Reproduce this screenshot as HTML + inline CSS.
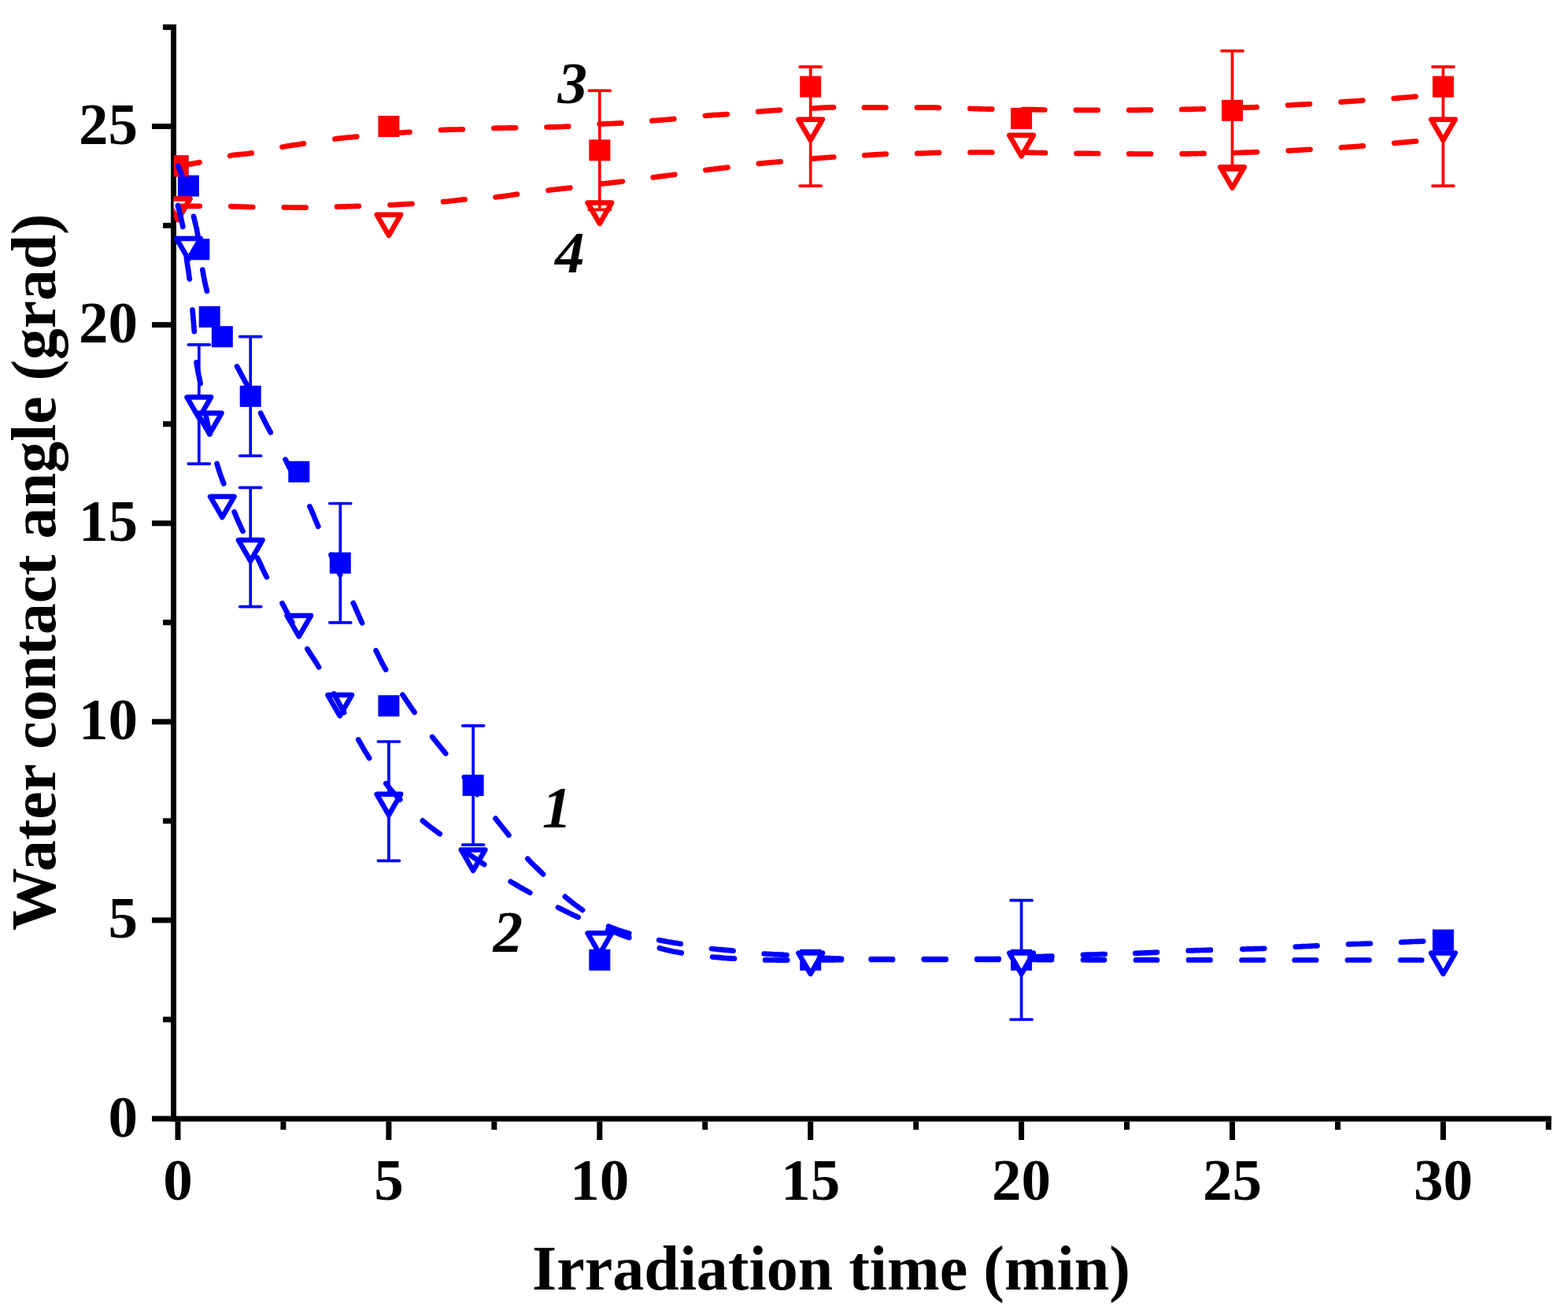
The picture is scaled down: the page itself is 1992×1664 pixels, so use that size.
<!DOCTYPE html>
<html><head><meta charset="utf-8"><title>Water contact angle vs irradiation time</title>
<style>html,body{margin:0;padding:0;background:#fff;}svg{display:block;}</style>
</head><body>
<svg width="1992" height="1664" viewBox="0 0 1992 1664">
<defs><clipPath id="pa"><rect x="220.8" y="0" width="1771" height="1417"/></clipPath></defs>
<rect width="1992" height="1664" fill="#fff"/>
<rect x="217" y="31" width="7" height="1393.6" fill="#000"/>
<rect x="217" y="1417.6" width="1754" height="7" fill="#000"/>
<rect x="193" y="1417.5" width="24" height="7" fill="#000"/>
<rect x="193" y="1165.4" width="24" height="7" fill="#000"/>
<rect x="193" y="913.3" width="24" height="7" fill="#000"/>
<rect x="193" y="661.2" width="24" height="7" fill="#000"/>
<rect x="193" y="409.1" width="24" height="7" fill="#000"/>
<rect x="193" y="157.0" width="24" height="7" fill="#000"/>
<rect x="207" y="1291.5" width="10" height="7" fill="#000"/>
<rect x="207" y="1039.3" width="10" height="7" fill="#000"/>
<rect x="207" y="787.2" width="10" height="7" fill="#000"/>
<rect x="207" y="535.1" width="10" height="7" fill="#000"/>
<rect x="207" y="283.0" width="10" height="7" fill="#000"/>
<rect x="207" y="31.0" width="10" height="7" fill="#000"/>
<rect x="222.5" y="1424.6" width="7" height="23.4" fill="#000"/>
<rect x="490.4" y="1424.6" width="7" height="23.4" fill="#000"/>
<rect x="758.3" y="1424.6" width="7" height="23.4" fill="#000"/>
<rect x="1026.2" y="1424.6" width="7" height="23.4" fill="#000"/>
<rect x="1294.1" y="1424.6" width="7" height="23.4" fill="#000"/>
<rect x="1562.0" y="1424.6" width="7" height="23.4" fill="#000"/>
<rect x="1829.9" y="1424.6" width="7" height="23.4" fill="#000"/>
<rect x="356.4" y="1424.6" width="7" height="10.4" fill="#000"/>
<rect x="624.3" y="1424.6" width="7" height="10.4" fill="#000"/>
<rect x="892.2" y="1424.6" width="7" height="10.4" fill="#000"/>
<rect x="1160.2" y="1424.6" width="7" height="10.4" fill="#000"/>
<rect x="1428.0" y="1424.6" width="7" height="10.4" fill="#000"/>
<rect x="1696.0" y="1424.6" width="7" height="10.4" fill="#000"/>
<rect x="1963.8" y="1424.6" width="7" height="10.4" fill="#000"/>
<text x="175" y="1443.5" text-anchor="end" font-family="Liberation Serif, Times New Roman, serif" font-weight="bold" font-size="75">0</text>
<text x="175" y="1191.4" text-anchor="end" font-family="Liberation Serif, Times New Roman, serif" font-weight="bold" font-size="75">5</text>
<text x="175" y="939.3" text-anchor="end" font-family="Liberation Serif, Times New Roman, serif" font-weight="bold" font-size="75">10</text>
<text x="175" y="687.2" text-anchor="end" font-family="Liberation Serif, Times New Roman, serif" font-weight="bold" font-size="75">15</text>
<text x="175" y="435.1" text-anchor="end" font-family="Liberation Serif, Times New Roman, serif" font-weight="bold" font-size="75">20</text>
<text x="175" y="183.0" text-anchor="end" font-family="Liberation Serif, Times New Roman, serif" font-weight="bold" font-size="75">25</text>
<text x="226.0" y="1524" text-anchor="middle" font-family="Liberation Serif, Times New Roman, serif" font-weight="bold" font-size="75">0</text>
<text x="493.9" y="1524" text-anchor="middle" font-family="Liberation Serif, Times New Roman, serif" font-weight="bold" font-size="75">5</text>
<text x="761.8" y="1524" text-anchor="middle" font-family="Liberation Serif, Times New Roman, serif" font-weight="bold" font-size="75">10</text>
<text x="1029.7" y="1524" text-anchor="middle" font-family="Liberation Serif, Times New Roman, serif" font-weight="bold" font-size="75">15</text>
<text x="1297.6" y="1524" text-anchor="middle" font-family="Liberation Serif, Times New Roman, serif" font-weight="bold" font-size="75">20</text>
<text x="1565.5" y="1524" text-anchor="middle" font-family="Liberation Serif, Times New Roman, serif" font-weight="bold" font-size="75">25</text>
<text x="1833.4" y="1524" text-anchor="middle" font-family="Liberation Serif, Times New Roman, serif" font-weight="bold" font-size="75">30</text>
<text x="676" y="1637.6" font-family="Liberation Serif, Times New Roman, serif" font-weight="bold" font-size="80">Irradiation time (min)</text>
<text transform="translate(70.3,1182) rotate(-90)" x="0" y="0" font-family="Liberation Serif, Times New Roman, serif" font-weight="bold" font-size="79.5">Water contact angle (grad)</text>
<text x="688.8" y="1051" font-family="Liberation Serif, Times New Roman, serif" font-weight="bold" font-style="italic" font-size="75">1</text>
<text x="626.6" y="1208.5" font-family="Liberation Serif, Times New Roman, serif" font-weight="bold" font-style="italic" font-size="75">2</text>
<text x="708.4" y="130.5" font-family="Liberation Serif, Times New Roman, serif" font-weight="bold" font-style="italic" font-size="75">3</text>
<text x="704.9" y="346" font-family="Liberation Serif, Times New Roman, serif" font-weight="bold" font-style="italic" font-size="75">4</text>
<g clip-path="url(#pa)">
<path d="M318.2,427.7V579.0M304.7,427.7H331.7M304.7,579.0H331.7" stroke="#0000FF" stroke-width="3.7" stroke-linecap="round" fill="none"/>
<path d="M432.3,639.5V790.8M418.8,639.5H445.8M418.8,790.8H445.8" stroke="#0000FF" stroke-width="3.7" stroke-linecap="round" fill="none"/>
<path d="M601.1,921.8V1073.1M587.6,921.8H614.6M587.6,1073.1H614.6" stroke="#0000FF" stroke-width="3.7" stroke-linecap="round" fill="none"/>
<rect x="212.5" y="197.4" width="27.0" height="27.0" fill="#0000FF"/>
<rect x="225.9" y="222.6" width="27.0" height="27.0" fill="#0000FF"/>
<rect x="239.3" y="303.3" width="27.0" height="27.0" fill="#0000FF"/>
<rect x="252.7" y="389.0" width="27.0" height="27.0" fill="#0000FF"/>
<rect x="268.8" y="414.2" width="27.0" height="27.0" fill="#0000FF"/>
<rect x="304.7" y="489.9" width="27.0" height="27.0" fill="#0000FF"/>
<rect x="366.3" y="585.7" width="27.0" height="27.0" fill="#0000FF"/>
<rect x="418.8" y="701.6" width="27.0" height="27.0" fill="#0000FF"/>
<rect x="480.4" y="883.1" width="27.0" height="27.0" fill="#0000FF"/>
<rect x="587.6" y="984.0" width="27.0" height="27.0" fill="#0000FF"/>
<rect x="748.3" y="1205.8" width="27.0" height="27.0" fill="#0000FF"/>
<rect x="1016.2" y="1205.8" width="27.0" height="27.0" fill="#0000FF"/>
<rect x="1284.1" y="1205.8" width="27.0" height="27.0" fill="#0000FF"/>
<rect x="1819.9" y="1180.6" width="27.0" height="27.0" fill="#0000FF"/>
<path d="M252.8,437.8V589.1M239.3,437.8H266.3M239.3,589.1H266.3" stroke="#0000FF" stroke-width="3.7" stroke-linecap="round" fill="none"/>
<path d="M318.2,619.3V770.6M304.7,619.3H331.7M304.7,770.6H331.7" stroke="#0000FF" stroke-width="3.7" stroke-linecap="round" fill="none"/>
<path d="M493.9,942.0V1093.3M480.4,942.0H507.4M480.4,1093.3H507.4" stroke="#0000FF" stroke-width="3.7" stroke-linecap="round" fill="none"/>
<path d="M1297.6,1143.7V1295.0M1284.1,1143.7H1311.1M1284.1,1295.0H1311.1" stroke="#0000FF" stroke-width="3.7" stroke-linecap="round" fill="none"/>
<path d="M210.7,252.5H241.3L226.0,279.0Z" fill="#fff" stroke="#0000FF" stroke-width="6.5" stroke-linejoin="round"/>
<path d="M224.1,302.9H254.7L239.4,329.4Z" fill="#fff" stroke="#0000FF" stroke-width="6.5" stroke-linejoin="round"/>
<path d="M237.5,504.6H268.1L252.8,531.1Z" fill="#fff" stroke="#0000FF" stroke-width="6.5" stroke-linejoin="round"/>
<path d="M250.9,524.8H281.5L266.2,551.3Z" fill="#fff" stroke="#0000FF" stroke-width="6.5" stroke-linejoin="round"/>
<path d="M267.0,630.7H297.6L282.3,657.2Z" fill="#fff" stroke="#0000FF" stroke-width="6.5" stroke-linejoin="round"/>
<path d="M302.9,686.1H333.5L318.2,712.6Z" fill="#fff" stroke="#0000FF" stroke-width="6.5" stroke-linejoin="round"/>
<path d="M364.5,781.9H395.1L379.8,808.4Z" fill="#fff" stroke="#0000FF" stroke-width="6.5" stroke-linejoin="round"/>
<path d="M416.4,882.8H447.0L431.7,909.3Z" fill="#fff" stroke="#0000FF" stroke-width="6.5" stroke-linejoin="round"/>
<path d="M478.6,1008.8H509.2L493.9,1035.3Z" fill="#fff" stroke="#0000FF" stroke-width="6.5" stroke-linejoin="round"/>
<path d="M585.8,1079.4H616.4L601.1,1105.9Z" fill="#fff" stroke="#0000FF" stroke-width="6.5" stroke-linejoin="round"/>
<path d="M746.5,1185.3H777.1L761.8,1211.8Z" fill="#fff" stroke="#0000FF" stroke-width="6.5" stroke-linejoin="round"/>
<path d="M1014.4,1210.5H1045.0L1029.7,1237.0Z" fill="#fff" stroke="#0000FF" stroke-width="6.5" stroke-linejoin="round"/>
<path d="M1282.3,1210.5H1312.9L1297.6,1237.0Z" fill="#fff" stroke="#0000FF" stroke-width="6.5" stroke-linejoin="round"/>
<path d="M1818.1,1210.5H1848.7L1833.4,1237.0Z" fill="#fff" stroke="#0000FF" stroke-width="6.5" stroke-linejoin="round"/>
<path d="M1029.7,84.9V236.1M1016.2,84.9H1043.2M1016.2,236.1H1043.2" stroke="#FF0000" stroke-width="3.7" stroke-linecap="round" fill="none"/>
<path d="M1833.4,84.9V236.1M1819.9,84.9H1846.9M1819.9,236.1H1846.9" stroke="#FF0000" stroke-width="3.7" stroke-linecap="round" fill="none"/>
<path d="M210.7,252.5H241.3L226.0,279.0Z" fill="#fff" stroke="#FF0000" stroke-width="6.5" stroke-linejoin="round"/>
<path d="M478.6,272.7H509.2L493.9,299.2Z" fill="#fff" stroke="#FF0000" stroke-width="6.5" stroke-linejoin="round"/>
<path d="M746.5,257.5H777.1L761.8,284.0Z" fill="#fff" stroke="#FF0000" stroke-width="6.5" stroke-linejoin="round"/>
<path d="M1014.4,151.7H1045.0L1029.7,178.2Z" fill="#fff" stroke="#FF0000" stroke-width="6.5" stroke-linejoin="round"/>
<path d="M1282.3,171.8H1312.9L1297.6,198.3Z" fill="#fff" stroke="#FF0000" stroke-width="6.5" stroke-linejoin="round"/>
<path d="M1550.2,212.2H1580.8L1565.5,238.7Z" fill="#fff" stroke="#FF0000" stroke-width="6.5" stroke-linejoin="round"/>
<path d="M1818.1,151.7H1848.7L1833.4,178.2Z" fill="#fff" stroke="#FF0000" stroke-width="6.5" stroke-linejoin="round"/>
<path d="M761.8,115.1V266.4M748.3,115.1H775.3M748.3,266.4H775.3" stroke="#FF0000" stroke-width="3.7" stroke-linecap="round" fill="none"/>
<path d="M1565.5,64.7V216.0M1552.0,64.7H1579.0M1552.0,216.0H1579.0" stroke="#FF0000" stroke-width="3.7" stroke-linecap="round" fill="none"/>
<rect x="212.5" y="197.4" width="27.0" height="27.0" fill="#FF0000"/>
<rect x="480.4" y="147.0" width="27.0" height="27.0" fill="#FF0000"/>
<rect x="748.3" y="177.3" width="27.0" height="27.0" fill="#FF0000"/>
<rect x="1016.2" y="96.6" width="27.0" height="27.0" fill="#FF0000"/>
<rect x="1284.1" y="136.9" width="27.0" height="27.0" fill="#FF0000"/>
<rect x="1552.0" y="126.8" width="27.0" height="27.0" fill="#FF0000"/>
<rect x="1819.9" y="96.6" width="27.0" height="27.0" fill="#FF0000"/>
<path d="M226.0,210.9 L227.3,210.7 L228.8,210.5 L230.6,210.2 L232.5,209.9 L234.7,209.6 L237.0,209.2 L239.5,208.8 L242.1,208.4 L244.8,207.9 L247.5,207.4 L250.3,206.9 L253.2,206.4 L253.5,206.3 M292.2,197.8 L294.9,197.3 L297.4,196.9 L299.7,196.6 L301.8,196.4 L303.9,196.2 L305.9,196.0 L307.9,195.9 L309.9,195.7 L312.1,195.5 L314.3,195.2 L316.8,194.9 L319.5,194.4 L319.7,194.4 M358.4,186.7 L361.1,186.2 L363.6,185.8 L365.8,185.4 L368.0,185.0 L370.0,184.7 L372.0,184.4 L374.0,184.2 L376.1,183.9 L378.3,183.6 L380.6,183.2 L383.1,182.9 L385.8,182.4 L386.0,182.4 M425.5,176.5 L428.3,176.1 L430.8,175.8 L433.1,175.5 L435.2,175.3 L437.3,175.1 L439.3,174.9 L441.3,174.7 L443.3,174.5 L445.4,174.3 L447.7,174.1 L450.2,173.8 L453.0,173.6 L453.3,173.6 M492.6,170.1 L495.4,169.8 L498.0,169.6 L500.3,169.4 L502.4,169.2 L504.5,169.0 L506.4,168.9 L508.4,168.7 L510.4,168.5 L512.5,168.4 L514.7,168.2 L517.1,168.0 L519.8,167.8 L520.5,167.8 M560.0,165.1 L562.8,165.0 L565.3,164.9 L567.6,164.8 L569.7,164.7 L571.8,164.7 L573.8,164.6 L575.7,164.6 L577.8,164.5 L579.9,164.5 L582.2,164.5 L584.7,164.4 L587.5,164.3 L587.8,164.3 M627.4,162.8 L630.2,162.7 L632.8,162.7 L635.0,162.6 L637.2,162.6 L639.2,162.5 L641.1,162.5 L643.0,162.5 L645.0,162.5 L647.1,162.4 L649.3,162.4 L651.7,162.4 L654.3,162.3 L655.2,162.3 M694.5,161.5 L697.2,161.4 L699.7,161.4 L702.0,161.3 L704.1,161.3 L706.1,161.2 L708.1,161.2 L710.1,161.1 L712.1,161.1 L714.3,161.0 L716.6,160.9 L719.1,160.7 L721.8,160.6 L722.2,160.6 M761.7,157.7 L764.5,157.5 L767.1,157.3 L769.4,157.2 L771.5,157.2 L773.5,157.1 L775.4,157.0 L777.3,157.0 L779.3,156.9 L781.4,156.8 L783.6,156.7 L786.0,156.6 L788.6,156.4 L789.5,156.4 M828.4,153.4 L831.2,153.1 L833.6,153.0 L835.9,152.8 L838.0,152.6 L840.0,152.5 L841.9,152.3 L843.8,152.2 L845.8,152.0 L847.9,151.9 L850.1,151.7 L852.6,151.5 L855.3,151.2 L856.3,151.1 M896.0,147.0 L898.9,146.7 L901.4,146.5 L903.7,146.4 L905.8,146.2 L907.8,146.1 L909.7,146.0 L911.6,145.9 L913.6,145.8 L915.6,145.7 L917.8,145.6 L920.2,145.4 L922.9,145.2 L923.8,145.1 M963.1,141.8 L965.9,141.6 L968.3,141.4 L970.5,141.2 L972.6,141.0 L974.5,140.9 L976.3,140.8 L978.1,140.6 L980.0,140.5 L982.0,140.4 L984.2,140.2 L986.6,140.1 L989.3,139.9 L991.0,139.8 M1031.2,137.7 L1034.1,137.5 L1036.6,137.4 L1038.9,137.2 L1041.1,137.1 L1043.1,136.9 L1044.9,136.8 L1046.8,136.7 L1048.7,136.6 L1050.7,136.5 L1052.8,136.4 L1055.1,136.4 L1057.6,136.3 L1058.9,136.3 M1097.8,136.6 L1100.4,136.6 L1102.8,136.6 L1105.1,136.6 L1107.3,136.6 L1109.5,136.6 L1111.6,136.6 L1113.8,136.6 L1115.9,136.6 L1118.1,136.6 L1120.5,136.6 L1122.9,136.6 L1125.5,136.6 L1125.5,136.6 M1165.0,136.6 L1167.6,136.6 L1170.0,136.6 L1172.2,136.6 L1174.4,136.6 L1176.5,136.6 L1178.5,136.6 L1180.5,136.6 L1182.6,136.7 L1184.7,136.7 L1186.9,136.7 L1189.2,136.7 L1191.7,136.8 L1192.8,136.8 M1232.3,137.9 L1234.9,138.0 L1237.3,138.1 L1239.5,138.1 L1241.6,138.2 L1243.7,138.3 L1245.7,138.3 L1247.7,138.4 L1249.8,138.5 L1251.9,138.5 L1254.1,138.6 L1256.5,138.6 L1259.0,138.7 L1260.2,138.7 M1299.5,139.0 L1302.1,139.0 L1304.5,139.1 L1306.8,139.1 L1308.9,139.1 L1311.0,139.2 L1312.9,139.2 L1314.9,139.3 L1316.9,139.3 L1318.9,139.4 L1321.0,139.4 L1323.3,139.4 L1325.7,139.5 L1327.3,139.5 M1366.8,139.8 L1369.4,139.8 L1371.8,139.8 L1374.0,139.8 L1376.1,139.8 L1378.2,139.8 L1380.1,139.8 L1382.1,139.8 L1384.1,139.8 L1386.1,139.8 L1388.3,139.8 L1390.6,139.8 L1393.0,139.8 L1394.7,139.8 M1434.2,139.8 L1436.8,139.8 L1439.2,139.8 L1441.4,139.8 L1443.6,139.8 L1445.6,139.8 L1447.7,139.7 L1449.7,139.7 L1451.7,139.7 L1453.8,139.7 L1456.0,139.7 L1458.4,139.6 L1460.8,139.6 L1462.0,139.6 M1501.2,139.0 L1503.7,138.9 L1506.1,138.9 L1508.4,138.8 L1510.5,138.8 L1512.6,138.8 L1514.6,138.7 L1516.6,138.7 L1518.7,138.6 L1520.8,138.5 L1523.0,138.5 L1525.3,138.4 L1527.8,138.3 L1529.0,138.3 M1568.7,137.0 L1571.2,136.9 L1573.6,136.8 L1575.8,136.8 L1577.9,136.8 L1579.9,136.7 L1582.0,136.7 L1584.0,136.6 L1586.0,136.6 L1588.2,136.5 L1590.4,136.4 L1592.8,136.3 L1595.3,136.2 L1596.5,136.2 M1636.2,133.7 L1638.8,133.5 L1641.2,133.4 L1643.5,133.2 L1645.8,133.1 L1647.9,133.0 L1650.1,132.9 L1652.2,132.8 L1654.3,132.7 L1656.5,132.6 L1658.8,132.4 L1661.3,132.3 L1663.8,132.1 L1664.0,132.1 M1703.5,129.6 L1706.1,129.4 L1708.5,129.2 L1710.8,129.1 L1713.0,128.9 L1715.2,128.8 L1717.3,128.6 L1719.4,128.5 L1721.5,128.3 L1723.7,128.2 L1726.0,128.0 L1728.4,127.8 L1731.0,127.7 L1731.3,127.6 M1770.7,125.0 L1773.2,124.8 L1775.7,124.6 L1778.1,124.4 L1780.3,124.2 L1782.6,124.0 L1784.7,123.8 L1786.9,123.6 L1789.1,123.5 L1791.3,123.3 L1793.6,123.1 L1795.9,122.9 L1798.4,122.7 L1798.5,122.6" stroke="#FF0000" stroke-width="6.7" stroke-linecap="round" stroke-linejoin="round" fill="none"/>
<path d="M226.0,262.0 L227.3,262.0 L228.8,262.0 L230.5,262.0 L232.5,261.9 L234.6,261.9 L236.9,261.9 L239.4,261.9 L241.9,261.8 L244.5,261.8 L247.2,261.8 L249.9,261.8 L252.6,261.8 L253.8,261.8 M293.3,262.2 L296.1,262.3 L298.5,262.3 L300.8,262.4 L303.0,262.5 L305.1,262.5 L307.1,262.6 L309.2,262.7 L311.3,262.8 L313.5,262.8 L315.9,262.9 L318.4,263.0 L321.2,263.0 L321.2,263.0 M360.8,263.4 L363.6,263.4 L366.1,263.5 L368.4,263.5 L370.5,263.5 L372.5,263.6 L374.5,263.6 L376.4,263.6 L378.4,263.6 L380.5,263.6 L382.7,263.6 L385.1,263.6 L387.8,263.6 L388.6,263.6 M428.0,262.6 L430.6,262.5 L433.0,262.5 L435.2,262.4 L437.3,262.4 L439.4,262.3 L441.3,262.2 L443.3,262.2 L445.3,262.1 L447.4,262.1 L449.5,262.0 L451.9,261.9 L454.4,261.8 L455.9,261.8 M495.6,260.4 L498.4,260.3 L500.9,260.2 L503.2,260.1 L505.4,259.9 L507.4,259.8 L509.4,259.7 L511.4,259.6 L513.4,259.4 L515.5,259.3 L517.8,259.1 L520.3,259.0 L523.0,258.8 L523.5,258.8 M563.1,256.2 L565.9,256.0 L568.4,255.8 L570.7,255.5 L572.8,255.3 L574.9,255.0 L576.9,254.8 L578.9,254.5 L580.9,254.3 L583.0,254.0 L585.3,253.8 L587.8,253.5 L590.5,253.3 L590.6,253.3 M629.5,250.5 L632.2,250.2 L634.6,249.9 L636.8,249.7 L638.9,249.4 L640.8,249.1 L642.6,248.9 L644.5,248.6 L646.4,248.3 L648.4,248.0 L650.6,247.6 L653.0,247.3 L655.6,246.9 L657.0,246.7 M696.6,241.7 L699.4,241.3 L701.9,241.0 L704.2,240.8 L706.4,240.5 L708.4,240.3 L710.3,240.1 L712.2,239.9 L714.2,239.7 L716.3,239.5 L718.5,239.2 L720.9,238.9 L723.6,238.6 L724.3,238.5 M763.3,233.7 L766.0,233.3 L768.5,233.0 L770.8,232.8 L772.9,232.6 L774.9,232.3 L776.8,232.1 L778.8,231.9 L780.8,231.7 L782.9,231.5 L785.1,231.2 L787.6,230.9 L790.3,230.6 L790.8,230.5 M829.7,225.4 L832.5,225.0 L835.0,224.7 L837.2,224.4 L839.3,224.1 L841.3,223.9 L843.2,223.6 L845.2,223.4 L847.1,223.1 L849.2,222.8 L851.5,222.5 L853.9,222.2 L856.6,221.8 L857.3,221.7 M896.5,216.1 L899.3,215.7 L901.8,215.4 L904.1,215.1 L906.2,214.9 L908.2,214.6 L910.1,214.4 L912.1,214.2 L914.0,213.9 L916.1,213.7 L918.3,213.4 L920.7,213.1 L923.4,212.8 L924.5,212.7 M963.9,207.9 L966.7,207.6 L969.2,207.3 L971.5,207.1 L973.6,206.9 L975.6,206.7 L977.5,206.5 L979.4,206.4 L981.4,206.2 L983.5,206.0 L985.7,205.9 L988.2,205.6 L990.9,205.4 L991.8,205.3 M1031.5,201.7 L1034.4,201.4 L1036.9,201.2 L1039.2,201.0 L1041.3,200.8 L1043.3,200.6 L1045.3,200.5 L1047.2,200.3 L1049.2,200.2 L1051.2,200.0 L1053.4,199.9 L1055.8,199.7 L1058.4,199.5 L1059.3,199.5 M1098.2,197.3 L1100.7,197.1 L1103.1,197.0 L1105.3,196.8 L1107.4,196.7 L1109.4,196.6 L1111.3,196.4 L1113.3,196.3 L1115.3,196.2 L1117.4,196.1 L1119.5,196.0 L1121.8,195.8 L1124.3,195.7 L1125.7,195.7 M1165.2,194.9 L1167.8,194.8 L1170.2,194.8 L1172.4,194.7 L1174.5,194.6 L1176.6,194.5 L1178.5,194.4 L1180.5,194.3 L1182.5,194.2 L1184.5,194.2 L1186.7,194.1 L1188.9,194.0 L1191.4,193.9 L1193.0,193.9 M1232.5,193.5 L1235.1,193.5 L1237.5,193.5 L1239.7,193.5 L1241.9,193.5 L1243.9,193.5 L1245.9,193.5 L1247.9,193.5 L1250.0,193.5 L1252.1,193.5 L1254.3,193.5 L1256.6,193.5 L1259.1,193.5 L1260.4,193.5 M1300.0,193.6 L1302.6,193.6 L1305.0,193.7 L1307.2,193.7 L1309.3,193.8 L1311.3,193.8 L1313.3,193.9 L1315.3,193.9 L1317.3,194.0 L1319.3,194.0 L1321.5,194.1 L1323.8,194.1 L1326.3,194.2 L1327.9,194.2 M1367.5,194.8 L1370.1,194.8 L1372.5,194.9 L1374.8,194.9 L1376.9,194.9 L1379.0,194.9 L1381.0,194.9 L1383.1,194.9 L1385.1,194.9 L1387.2,194.9 L1389.4,195.0 L1391.8,195.0 L1394.3,195.0 L1395.2,195.0 M1434.3,195.4 L1436.9,195.4 L1439.3,195.4 L1441.6,195.5 L1443.7,195.5 L1445.8,195.5 L1447.9,195.5 L1450.0,195.5 L1452.1,195.5 L1454.2,195.5 L1456.5,195.5 L1458.9,195.5 L1461.4,195.5 L1462.1,195.5 M1501.6,195.4 L1504.2,195.4 L1506.6,195.3 L1508.8,195.3 L1510.9,195.3 L1513.0,195.2 L1515.0,195.2 L1516.9,195.2 L1518.9,195.1 L1521.0,195.1 L1523.1,195.0 L1525.4,195.0 L1527.9,194.9 L1529.6,194.9 M1569.0,194.1 L1571.7,194.0 L1574.2,194.0 L1576.5,193.9 L1578.7,193.8 L1580.8,193.7 L1582.8,193.7 L1584.9,193.6 L1587.0,193.5 L1589.1,193.4 L1591.5,193.3 L1594.0,193.2 L1596.7,193.1 L1596.9,193.1 M1636.7,191.4 L1639.3,191.3 L1641.7,191.1 L1644.0,191.0 L1646.2,190.9 L1648.2,190.8 L1650.3,190.7 L1652.3,190.5 L1654.4,190.4 L1656.5,190.3 L1658.7,190.2 L1661.0,190.0 L1663.5,189.9 L1664.5,189.8 M1704.0,187.4 L1706.5,187.2 L1709.0,187.1 L1711.2,186.9 L1713.4,186.7 L1715.5,186.6 L1717.5,186.4 L1719.6,186.3 L1721.6,186.1 L1723.8,186.0 L1726.0,185.8 L1728.3,185.6 L1730.8,185.4 L1731.8,185.3 M1771.2,181.8 L1773.8,181.6 L1776.2,181.4 L1778.5,181.2 L1780.8,181.0 L1782.9,180.8 L1785.0,180.6 L1787.1,180.5 L1789.2,180.3 L1791.3,180.1 L1793.5,179.9 L1795.7,179.7 L1798.1,179.5 L1799.0,179.4" stroke="#FF0000" stroke-width="6.7" stroke-linecap="round" stroke-linejoin="round" fill="none"/>
<path d="M226.0,210.6 L226.6,212.0 L227.4,213.9 L228.3,216.1 L229.3,218.6 L230.3,221.1 L231.3,223.4 L232.1,225.5 L232.9,227.1 L233.7,228.7 L234.5,230.4 L235.4,232.8 L236.4,236.0 L236.6,236.4 M246.0,274.8 L246.8,278.2 L247.5,281.0 L248.0,283.4 L248.5,285.3 L248.9,287.0 L249.3,288.5 L249.7,290.0 L250.0,291.6 L250.3,293.3 L250.7,295.3 L251.1,297.7 L251.6,300.7 L251.9,302.4 M257.3,342.6 L257.8,345.5 L258.2,348.2 L258.7,350.6 L259.1,352.8 L259.5,354.9 L259.9,356.9 L260.3,358.8 L260.8,360.7 L261.2,362.7 L261.7,364.8 L262.3,367.0 L262.9,369.4 L262.9,369.7 M272.6,406.7 L273.3,408.7 L274.1,410.7 L274.9,412.7 L275.7,414.6 L276.5,416.6 L277.4,418.6 L278.2,420.5 L279.1,422.4 L280.0,424.3 L280.9,426.2 L281.7,428.1 L282.6,430.0 L283.4,431.5 M301.0,465.4 L302.1,467.3 L303.1,469.2 L304.1,471.0 L305.1,472.9 L306.0,474.7 L307.0,476.5 L308.0,478.3 L309.0,480.1 L310.0,482.0 L311.0,484.0 L312.1,486.0 L313.2,488.1 L313.9,489.5 M331.1,524.7 L332.2,526.9 L333.2,529.0 L334.2,531.0 L335.2,532.9 L336.1,534.8 L337.1,536.6 L338.0,538.5 L339.0,540.3 L340.0,542.2 L341.0,544.1 L342.0,546.1 L343.1,548.1 L343.7,549.3 M362.6,583.8 L363.6,585.8 L364.6,587.8 L365.6,589.7 L366.6,591.7 L367.6,593.7 L368.6,595.6 L369.6,597.5 L370.6,599.5 L371.6,601.4 L372.6,603.4 L373.6,605.3 L374.6,607.3 L375.2,608.5 M393.4,643.2 L394.4,645.4 L395.3,647.4 L396.2,649.3 L397.0,651.1 L397.7,652.9 L398.5,654.8 L399.2,656.6 L400.0,658.6 L400.9,660.7 L401.9,663.0 L402.9,665.5 L404.1,668.2 L404.3,668.7 M420.5,704.8 L421.4,706.8 L422.3,708.9 L423.2,710.9 L424.1,712.9 L425.0,714.8 L425.9,716.8 L426.8,718.7 L427.7,720.6 L428.6,722.6 L429.5,724.6 L430.4,726.6 L431.3,728.6 L432.1,730.1 M448.8,766.0 L450.0,768.6 L451.1,771.0 L452.1,773.3 L453.0,775.4 L453.9,777.5 L454.7,779.4 L455.6,781.3 L456.4,783.2 L457.2,785.2 L458.1,787.1 L459.1,789.2 L460.0,791.3 L460.0,791.3 M477.5,826.3 L478.6,828.5 L479.7,830.6 L480.6,832.6 L481.6,834.5 L482.5,836.4 L483.4,838.2 L484.3,840.0 L485.2,841.8 L486.2,843.6 L487.2,845.5 L488.3,847.5 L489.5,849.5 L490.1,850.6 M511.4,882.6 L512.8,884.5 L514.0,886.4 L515.3,888.3 L516.5,890.1 L517.7,891.9 L518.9,893.7 L520.2,895.5 L521.4,897.4 L522.7,899.2 L524.0,901.1 L525.3,903.0 L526.6,904.9 M549.2,936.0 L550.6,937.9 L551.9,939.5 L553.2,941.1 L554.4,942.6 L555.6,944.1 L556.8,945.5 L558.0,947.0 L559.2,948.5 L560.5,950.1 L561.9,951.8 L563.4,953.6 L565.0,955.7 L566.2,957.1 M589.9,987.5 L591.2,989.2 L592.6,990.9 L593.9,992.6 L595.2,994.3 L596.4,996.0 L597.7,997.6 L598.9,999.2 L600.2,1000.9 L601.5,1002.6 L602.8,1004.3 L604.1,1006.0 L605.4,1007.7 L606.4,1009.1 M629.5,1039.6 L631.2,1041.8 L632.8,1043.9 L634.2,1045.7 L635.6,1047.4 L636.9,1049.0 L638.1,1050.5 L639.3,1052.0 L640.4,1053.5 L641.6,1054.9 L642.9,1056.4 L644.1,1058.0 L645.5,1059.7 L646.4,1060.9 M670.3,1090.9 L671.9,1092.6 L673.5,1094.3 L675.1,1095.9 L676.7,1097.5 L678.3,1099.1 L679.9,1100.6 L681.5,1102.1 L683.1,1103.7 L684.8,1105.3 L686.4,1106.9 L688.1,1108.5 L689.9,1110.3 L690.0,1110.4 M717.9,1138.9 L719.7,1140.5 L721.5,1142.0 L723.3,1143.4 L725.1,1144.9 L726.9,1146.3 L728.7,1147.7 L730.5,1149.1 L732.3,1150.4 L734.2,1151.8 L736.0,1153.1 L737.9,1154.5 L739.8,1155.8 L740.0,1156.0 M773.1,1176.6 L775.2,1177.5 L777.3,1178.4 L779.3,1179.2 L781.4,1180.0 L783.5,1180.7 L785.5,1181.4 L787.6,1182.1 L789.8,1182.8 L791.9,1183.5 L794.0,1184.1 L796.2,1184.7 L798.4,1185.4 L799.2,1185.6 M837.3,1194.2 L839.6,1194.6 L841.8,1195.0 L843.9,1195.4 L846.1,1195.8 L848.2,1196.2 L850.3,1196.5 L852.4,1196.9 L854.5,1197.2 L856.7,1197.6 L858.8,1197.9 L861.0,1198.3 L863.2,1198.7 L864.7,1198.9 M903.9,1205.0 L906.2,1205.3 L908.5,1205.5 L910.8,1205.8 L913.0,1206.0 L915.2,1206.2 L917.4,1206.4 L919.7,1206.6 L921.9,1206.8 L924.1,1207.0 L926.3,1207.2 L928.6,1207.4 L930.8,1207.6 L931.5,1207.7 M970.7,1211.5 L973.0,1211.7 L975.3,1211.8 L977.5,1211.9 L979.8,1212.0 L982.0,1212.2 L984.2,1212.3 L986.5,1212.4 L988.8,1212.5 L991.1,1212.6 L993.4,1212.7 L995.8,1212.9 L998.3,1213.0 L999.4,1213.1 M1041.0,1216.5 L1043.7,1216.7 L1046.2,1216.8 L1048.7,1217.0 L1051.0,1217.1 L1053.2,1217.2 L1055.5,1217.3 L1057.6,1217.4 L1059.8,1217.5 L1062.0,1217.6 L1064.2,1217.6 L1066.5,1217.7 L1068.8,1217.8 L1068.9,1217.8 M1106.7,1218.3 L1108.8,1218.3 L1111.0,1218.3 L1113.2,1218.3 L1115.4,1218.3 L1117.6,1218.3 L1119.8,1218.3 L1122.0,1218.3 L1124.2,1218.3 L1126.5,1218.3 L1128.6,1218.3 L1130.8,1218.3 L1133.0,1218.3 L1134.0,1218.3 M1173.7,1218.3 L1176.0,1218.3 L1178.3,1218.3 L1180.6,1218.3 L1182.9,1218.3 L1185.2,1218.3 L1187.5,1218.3 L1189.8,1218.3 L1192.1,1218.3 L1194.4,1218.3 L1196.7,1218.3 L1199.0,1218.3 L1201.3,1218.3 L1201.6,1218.3 M1241.1,1218.2 L1243.2,1218.2 L1245.3,1218.2 L1247.4,1218.2 L1249.6,1218.2 L1251.7,1218.2 L1253.9,1218.1 L1256.1,1218.1 L1258.3,1218.1 L1260.5,1218.1 L1262.7,1218.1 L1264.9,1218.0 L1267.1,1218.0 L1268.9,1217.9 M1308.5,1215.6 L1311.2,1215.5 L1313.7,1215.4 L1316.1,1215.3 L1318.4,1215.2 L1320.6,1215.1 L1322.8,1215.0 L1324.9,1215.0 L1327.0,1214.9 L1329.1,1214.8 L1331.2,1214.8 L1333.3,1214.7 L1335.6,1214.6 L1336.5,1214.6 M1376.0,1212.9 L1378.3,1212.8 L1380.5,1212.7 L1382.8,1212.7 L1385.0,1212.6 L1387.3,1212.5 L1389.6,1212.5 L1391.8,1212.4 L1394.1,1212.4 L1396.3,1212.3 L1398.6,1212.2 L1400.8,1212.2 L1403.0,1212.1 L1403.7,1212.1 M1442.3,1210.9 L1444.6,1210.8 L1446.9,1210.7 L1449.2,1210.6 L1451.5,1210.5 L1453.9,1210.4 L1456.2,1210.3 L1458.6,1210.2 L1460.9,1210.1 L1463.2,1210.0 L1465.6,1209.9 L1467.9,1209.8 L1470.0,1209.7 M1509.7,1207.5 L1512.0,1207.5 L1514.2,1207.4 L1516.5,1207.3 L1518.8,1207.2 L1521.1,1207.2 L1523.4,1207.1 L1525.7,1207.0 L1528.0,1207.0 L1530.3,1206.9 L1532.6,1206.8 L1534.9,1206.8 L1537.2,1206.7 L1537.9,1206.7 M1578.3,1205.6 L1580.5,1205.6 L1582.8,1205.5 L1585.1,1205.4 L1587.4,1205.4 L1589.6,1205.3 L1591.9,1205.3 L1594.2,1205.2 L1596.5,1205.1 L1598.7,1205.1 L1601.0,1205.0 L1603.2,1204.9 L1605.5,1204.9 L1606.3,1204.8 M1645.8,1202.7 L1648.1,1202.6 L1650.4,1202.5 L1652.7,1202.3 L1655.0,1202.2 L1657.4,1202.1 L1659.8,1202.0 L1662.1,1201.9 L1664.5,1201.8 L1666.8,1201.6 L1669.1,1201.5 L1671.4,1201.4 L1673.5,1201.3 M1713.0,1199.4 L1715.1,1199.3 L1717.3,1199.2 L1719.5,1199.2 L1721.7,1199.1 L1724.0,1199.0 L1726.2,1199.0 L1728.4,1198.9 L1730.6,1198.8 L1732.8,1198.8 L1735.1,1198.7 L1737.3,1198.6 L1739.5,1198.6 L1740.8,1198.5 M1780.2,1196.8 L1782.5,1196.7 L1784.8,1196.6 L1787.2,1196.5 L1789.6,1196.4 L1792.0,1196.2 L1794.3,1196.1 L1796.7,1196.0 L1799.0,1195.9 L1801.3,1195.9 L1803.5,1195.8 L1805.7,1195.7 L1807.8,1195.6 L1808.1,1195.6" stroke="#0000FF" stroke-width="6.7" stroke-linecap="round" stroke-linejoin="round" fill="none"/>
<path d="M226.0,261.0 L226.3,262.2 L226.7,263.7 L227.1,265.4 L227.6,267.3 L228.1,269.4 L228.6,271.6 L229.2,273.9 L229.8,276.4 L230.4,278.9 L230.9,281.4 L231.5,284.0 L232.0,286.6 L232.3,288.0 M236.9,327.0 L237.2,329.6 L237.5,332.1 L237.9,334.5 L238.2,336.7 L238.5,338.9 L238.9,341.0 L239.2,343.2 L239.5,345.3 L239.8,347.4 L240.1,349.6 L240.4,351.9 L240.7,354.3 L240.8,354.4 M244.5,393.5 L244.7,395.9 L244.9,398.2 L245.1,400.3 L245.3,402.5 L245.5,404.6 L245.6,406.7 L245.8,408.7 L246.0,410.8 L246.2,412.9 L246.3,415.1 L246.5,417.3 L246.7,419.7 L246.8,421.1 M249.6,460.3 L249.9,462.7 L250.3,464.9 L250.6,467.0 L251.0,469.0 L251.3,471.0 L251.7,472.9 L252.1,474.9 L252.5,476.9 L253.0,479.1 L253.4,481.3 L253.9,483.7 L254.4,486.2 L254.6,487.3 M261.1,525.1 L261.4,527.1 L261.8,529.1 L262.2,531.0 L262.6,533.0 L263.0,535.0 L263.4,537.0 L263.8,539.0 L264.3,541.1 L264.7,543.2 L265.2,545.4 L265.7,547.6 L266.2,549.8 L266.5,551.5 M275.6,589.0 L276.4,591.6 L277.1,593.9 L277.8,596.2 L278.4,598.2 L279.1,600.2 L279.7,602.1 L280.4,603.9 L281.0,605.7 L281.7,607.5 L282.3,609.3 L283.0,611.1 L283.7,613.1 L284.3,614.5 M297.6,650.1 L298.5,652.3 L299.4,654.4 L300.2,656.4 L301.0,658.4 L301.9,660.3 L302.7,662.3 L303.6,664.2 L304.5,666.2 L305.4,668.1 L306.3,670.1 L307.3,672.2 L308.3,674.3 L308.5,674.7 M326.9,708.4 L328.0,710.5 L329.0,712.5 L329.9,714.5 L330.8,716.4 L331.7,718.3 L332.5,720.2 L333.4,722.0 L334.3,723.9 L335.2,725.8 L336.1,727.8 L337.1,729.8 L338.2,731.9 L338.8,733.0 M358.5,766.3 L359.6,768.4 L360.8,770.5 L361.8,772.5 L362.9,774.5 L363.9,776.5 L364.9,778.4 L365.9,780.4 L366.9,782.3 L367.9,784.3 L369.0,786.3 L370.0,788.3 L371.2,790.4 L371.3,790.6 M390.4,824.2 L391.6,826.3 L392.8,828.2 L394.0,830.0 L395.0,831.6 L396.1,833.3 L397.2,834.9 L398.3,836.6 L399.4,838.3 L400.6,840.2 L401.9,842.2 L403.2,844.4 L404.7,846.9 L405.0,847.4 M424.1,881.2 L425.1,883.1 L426.2,885.0 L427.2,886.9 L428.2,888.8 L429.3,890.6 L430.2,892.5 L431.3,894.3 L432.3,896.2 L433.3,898.1 L434.4,900.1 L435.4,902.1 L436.5,904.1 L437.0,905.1 M455.2,939.4 L456.7,942.0 L458.0,944.4 L459.2,946.5 L460.3,948.4 L461.3,950.2 L462.3,951.9 L463.3,953.5 L464.3,955.2 L465.3,956.8 L466.4,958.6 L467.6,960.4 L468.9,962.5 L469.1,962.9 M490.3,995.2 L491.8,997.1 L493.2,999.0 L494.6,1000.7 L495.9,1002.3 L497.2,1003.9 L498.5,1005.4 L499.9,1006.9 L501.2,1008.4 L502.7,1009.9 L504.2,1011.5 L505.8,1013.1 L507.5,1014.9 L508.3,1015.7 M536.9,1042.4 L538.6,1043.9 L540.3,1045.3 L541.9,1046.6 L543.4,1047.8 L544.9,1049.0 L546.4,1050.2 L548.0,1051.4 L549.6,1052.6 L551.3,1053.8 L553.1,1055.2 L555.1,1056.6 L557.3,1058.2 L558.8,1059.3 M591.8,1082.4 L593.7,1083.7 L595.6,1085.0 L597.4,1086.2 L599.2,1087.4 L601.0,1088.7 L602.8,1089.9 L604.5,1091.0 L606.3,1092.2 L608.1,1093.4 L610.0,1094.7 L611.8,1095.9 L613.7,1097.1 L615.1,1098.1 M648.7,1119.8 L651.2,1121.3 L653.5,1122.7 L655.7,1124.0 L657.7,1125.2 L659.7,1126.4 L661.6,1127.5 L663.5,1128.5 L665.4,1129.6 L667.3,1130.6 L669.2,1131.7 L671.2,1132.8 L673.3,1133.9 L673.3,1133.9 M708.9,1152.7 L711.0,1153.7 L713.1,1154.8 L715.1,1155.8 L717.1,1156.8 L719.1,1157.8 L721.2,1158.8 L723.2,1159.8 L725.2,1160.7 L727.2,1161.7 L729.3,1162.7 L731.4,1163.7 L733.5,1164.6 L734.6,1165.1 M772.3,1180.9 L774.5,1181.8 L776.8,1182.7 L779.0,1183.5 L781.2,1184.4 L783.4,1185.2 L785.6,1186.0 L787.8,1186.8 L790.0,1187.7 L792.2,1188.5 L794.4,1189.3 L796.7,1190.1 L798.9,1190.9 L799.3,1191.0 M837.9,1204.3 L840.3,1205.0 L842.6,1205.6 L844.9,1206.2 L847.2,1206.7 L849.5,1207.2 L851.8,1207.7 L854.0,1208.2 L856.3,1208.7 L858.6,1209.1 L860.9,1209.5 L863.3,1210.0 L865.7,1210.4 L865.7,1210.4 M905.2,1215.6 L907.6,1215.8 L910.0,1216.0 L912.3,1216.2 L914.6,1216.4 L916.9,1216.6 L919.2,1216.8 L921.5,1217.0 L923.8,1217.1 L926.1,1217.3 L928.4,1217.4 L930.7,1217.6 L933.0,1217.7 L933.0,1217.7 M972.1,1219.4 L974.3,1219.4 L976.4,1219.5 L978.6,1219.5 L980.8,1219.5 L983.0,1219.5 L985.1,1219.5 L987.3,1219.6 L989.5,1219.6 L991.8,1219.6 L994.0,1219.6 L996.3,1219.6 L998.5,1219.6 L1000.3,1219.6 M1041.2,1219.4 L1043.4,1219.4 L1045.6,1219.4 L1047.8,1219.4 L1050.1,1219.3 L1052.3,1219.3 L1054.6,1219.3 L1056.9,1219.3 L1059.3,1219.3 L1061.7,1219.2 L1064.1,1219.2 L1066.6,1219.2 L1068.9,1219.2 M1107.0,1219.0 L1108.8,1219.0 L1110.5,1219.0 L1112.3,1219.0 L1114.1,1219.0 L1116.0,1218.9 L1117.8,1218.9 L1119.7,1218.9 L1121.6,1218.9 L1123.6,1218.9 L1125.5,1218.9 L1127.5,1218.9 L1129.5,1218.9 L1131.5,1218.9 L1133.5,1218.9 L1134.0,1218.9 M1174.0,1218.8 L1176.2,1218.8 L1178.3,1218.8 L1180.4,1218.8 L1182.5,1218.8 L1184.6,1218.8 L1186.7,1218.8 L1188.8,1218.8 L1190.8,1218.8 L1192.9,1218.8 L1195.0,1218.8 L1197.0,1218.8 L1199.0,1218.8 L1201.0,1218.8 L1201.5,1218.8 M1241.5,1218.8 L1243.5,1218.9 L1245.5,1218.9 L1247.5,1218.9 L1249.5,1218.9 L1251.5,1218.9 L1253.5,1218.9 L1255.5,1218.9 L1257.5,1218.9 L1259.5,1218.9 L1261.5,1218.9 L1263.5,1218.9 L1265.5,1218.9 L1267.5,1218.9 L1268.5,1218.9 M1308.5,1219.0 L1310.5,1219.0 L1312.5,1219.0 L1314.5,1219.0 L1316.5,1219.0 L1318.5,1219.1 L1320.5,1219.1 L1322.5,1219.1 L1324.5,1219.1 L1326.5,1219.1 L1328.5,1219.1 L1330.5,1219.1 L1332.5,1219.1 L1334.5,1219.1 L1336.0,1219.1 M1376.0,1219.2 L1378.0,1219.2 L1380.0,1219.3 L1382.0,1219.3 L1384.0,1219.3 L1386.0,1219.3 L1388.0,1219.3 L1390.0,1219.3 L1392.0,1219.3 L1394.0,1219.3 L1396.0,1219.3 L1398.0,1219.3 L1400.0,1219.3 L1402.0,1219.3 L1403.0,1219.3 M1443.0,1219.4 L1445.0,1219.4 L1447.0,1219.4 L1449.0,1219.4 L1451.0,1219.4 L1453.0,1219.4 L1455.0,1219.4 L1457.0,1219.4 L1459.0,1219.4 L1461.0,1219.4 L1463.0,1219.4 L1465.0,1219.4 L1467.0,1219.4 L1469.0,1219.4 L1470.0,1219.4 M1510.0,1219.4 L1512.0,1219.4 L1514.0,1219.4 L1516.0,1219.4 L1518.0,1219.4 L1520.0,1219.4 L1522.0,1219.4 L1524.0,1219.4 L1526.0,1219.4 L1528.0,1219.4 L1530.0,1219.4 L1532.0,1219.4 L1534.0,1219.4 L1536.0,1219.4 L1537.5,1219.4 M1577.5,1219.5 L1579.5,1219.5 L1581.5,1219.5 L1583.5,1219.5 L1585.5,1219.5 L1587.5,1219.5 L1589.5,1219.5 L1591.5,1219.5 L1593.5,1219.5 L1595.5,1219.5 L1597.5,1219.5 L1599.5,1219.5 L1601.5,1219.5 L1603.5,1219.5 L1605.0,1219.5 M1644.6,1219.5 L1646.5,1219.5 L1648.4,1219.5 L1650.3,1219.5 L1652.2,1219.5 L1654.2,1219.5 L1656.1,1219.5 L1658.1,1219.5 L1660.0,1219.5 L1662.0,1219.5 L1664.0,1219.5 L1666.0,1219.5 L1668.0,1219.5 L1670.1,1219.5 L1672.1,1219.5 L1672.1,1219.5 M1711.9,1219.5 L1714.0,1219.5 L1716.0,1219.5 L1718.1,1219.5 L1720.2,1219.5 L1722.3,1219.5 L1724.5,1219.5 L1726.7,1219.5 L1728.9,1219.5 L1731.2,1219.5 L1733.4,1219.5 L1735.7,1219.5 L1738.0,1219.5 L1739.5,1219.5 M1779.2,1219.5 L1781.5,1219.5 L1783.7,1219.5 L1786.0,1219.5 L1788.2,1219.5 L1790.4,1219.5 L1792.5,1219.5 L1794.7,1219.5 L1796.8,1219.5 L1798.9,1219.5 L1800.9,1219.5 L1803.0,1219.5 L1804.9,1219.5 L1806.2,1219.5" stroke="#0000FF" stroke-width="6.7" stroke-linecap="round" stroke-linejoin="round" fill="none"/>
</g>
</svg>
</body></html>
